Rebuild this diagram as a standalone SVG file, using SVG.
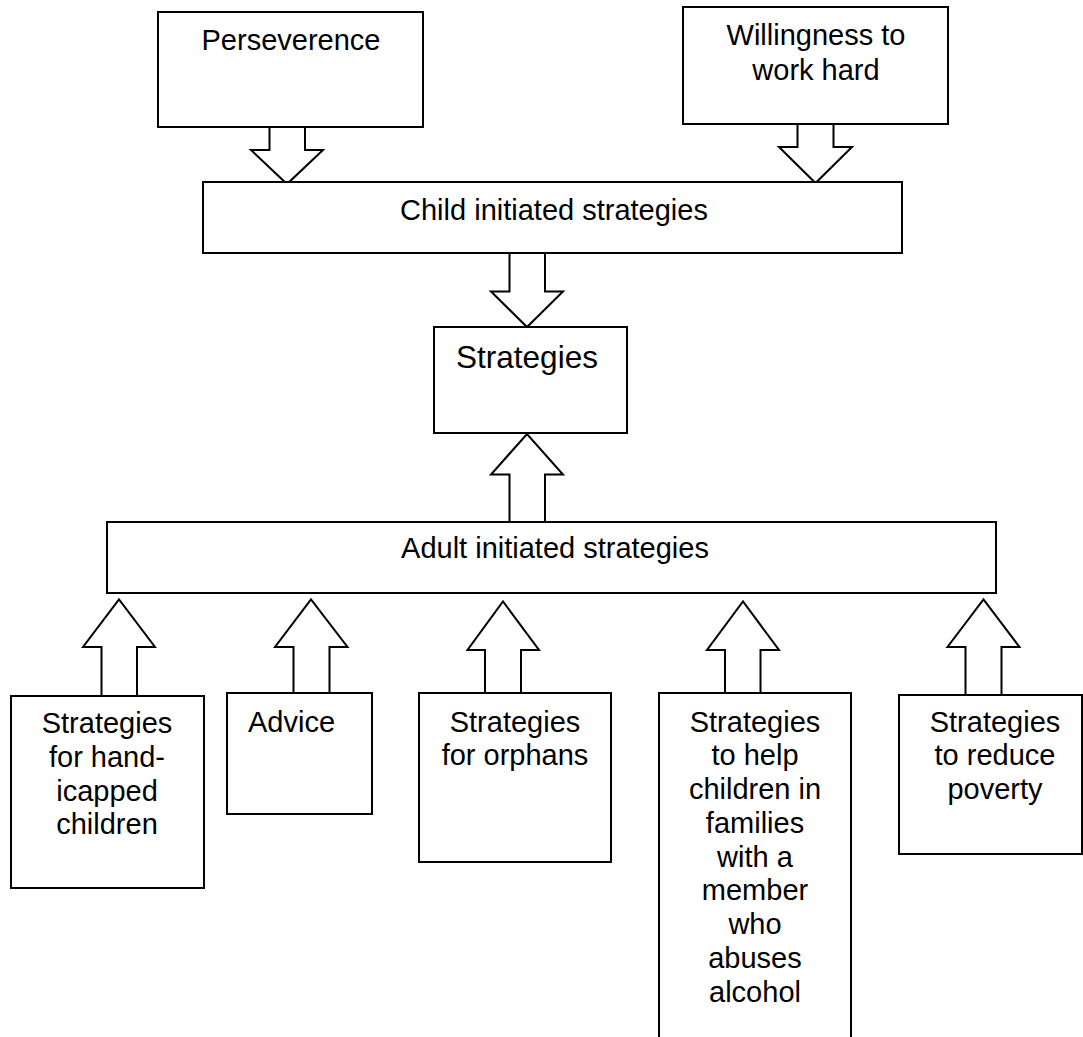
<svg xmlns="http://www.w3.org/2000/svg" width="1083" height="1037" viewBox="0 0 1083 1037">
  <style>
    .box { fill: #ffffff; stroke: #000000; stroke-width: 2; }
    .arrow { fill: #ffffff; stroke: #000000; stroke-width: 2; stroke-linejoin: miter; }
    .label { font-family: "Liberation Sans", Arial, sans-serif; font-size: 29px; fill: #000000; text-anchor: middle; }
    .big { font-size: 31.5px; }
  </style>
  <rect x="0" y="0" width="1083" height="1037" fill="#ffffff"/>

  <!-- block arrows between the boxes -->
  <g id="connectors">
    <!-- down arrows -->
    <path class="arrow" d="M269.5,127 V150 H251 L287,184 L323,150 H305 V127"/>
    <path class="arrow" d="M797.5,124 V147 H779 L815.5,183 L852,147 H833.5 V124"/>
    <path class="arrow" d="M509.5,253 V291.5 H491 L527,327 L563,291.5 H545 V253"/>
    <!-- up arrow into the central box -->
    <path class="arrow" d="M509.5,521 V474.5 H491 L527,434 L563,474.5 H545 V521"/>
    <!-- up arrows from the bottom row -->
    <path class="arrow" d="M101.5,696 V647 H83 L119,599.5 L155,647 H137 V696"/>
    <path class="arrow" d="M293.5,693 V647 H275 L311,599.5 L347.5,647 H329.5 V693"/>
    <path class="arrow" d="M485,693 V650 H467.5 L503,601.5 L539,650 H521 V693"/>
    <path class="arrow" d="M725,693 V650 H707 L743,601.5 L779,650 H760.5 V693"/>
    <path class="arrow" d="M965.5,695 V647 H947.5 L983.5,599.5 L1019.5,647 H1001.5 V695"/>
  </g>

  <g id="perseverence">
    <rect class="box" x="158" y="12" width="265" height="115"/>
    <text class="label" x="291" y="50">Perseverence</text>
  </g>

  <g id="willingness">
    <rect class="box" x="683" y="7" width="265" height="117"/>
    <text class="label" x="816" y="45">Willingness to</text>
    <text class="label" x="816" y="80">work hard</text>
  </g>

  <g id="child-initiated">
    <rect class="box" x="203" y="182" width="699" height="71"/>
    <text class="label" x="554" y="220">Child initiated strategies</text>
  </g>

  <g id="strategies">
    <rect class="box" x="434" y="327" width="193" height="106"/>
    <text class="label big" x="527" y="368">Strategies</text>
  </g>

  <g id="adult-initiated">
    <rect class="box" x="107" y="522" width="889" height="71"/>
    <text class="label" x="555" y="558">Adult initiated strategies</text>
  </g>

  <g id="handicapped">
    <rect class="box" x="11" y="696" width="193" height="192"/>
    <text class="label" x="107" y="733">Strategies</text>
    <text class="label" x="107" y="767">for hand-</text>
    <text class="label" x="107" y="800.5">icapped</text>
    <text class="label" x="107" y="834">children</text>
  </g>

  <g id="advice">
    <rect class="box" x="227" y="693" width="145" height="121"/>
    <text class="label" x="248" y="731.5" style="text-anchor:start">Advice</text>
  </g>

  <g id="orphans">
    <rect class="box" x="419" y="693" width="192" height="169"/>
    <text class="label" x="515" y="731.5">Strategies</text>
    <text class="label" x="515" y="765">for orphans</text>
  </g>

  <g id="alcohol">
    <rect class="box" x="659" y="693" width="192" height="360"/>
    <text class="label" x="755" y="731.5">Strategies</text>
    <text class="label" x="755" y="765">to help</text>
    <text class="label" x="755" y="798.5">children in</text>
    <text class="label" x="755" y="832.5">families</text>
    <text class="label" x="755" y="867">with a</text>
    <text class="label" x="755" y="900">member</text>
    <text class="label" x="755" y="934">who</text>
    <text class="label" x="755" y="967.5">abuses</text>
    <text class="label" x="755" y="1001.5">alcohol</text>
  </g>

  <g id="poverty">
    <rect class="box" x="899" y="695" width="183" height="159"/>
    <text class="label" x="995" y="731.5">Strategies</text>
    <text class="label" x="995" y="765">to reduce</text>
    <text class="label" x="995" y="798.5">poverty</text>
  </g>
</svg>
